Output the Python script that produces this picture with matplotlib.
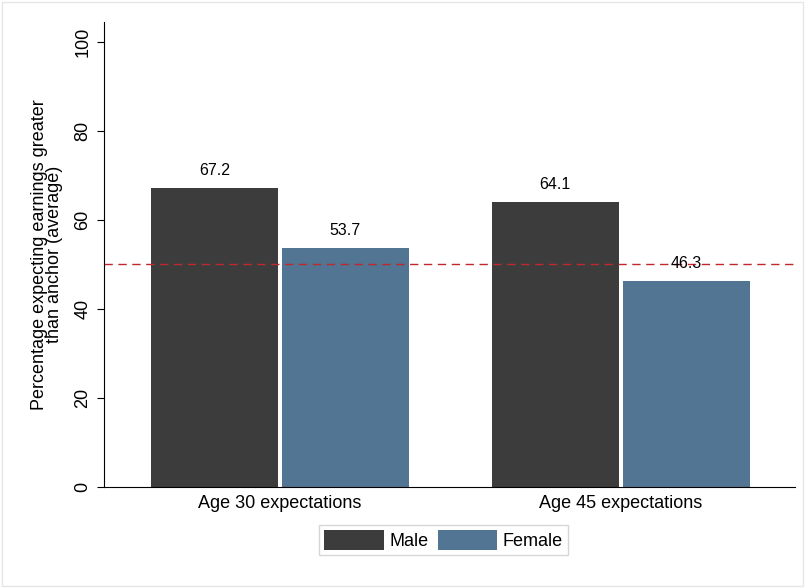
import matplotlib
matplotlib.use("Agg")
import matplotlib.pyplot as plt
from matplotlib.patches import Rectangle

categories = ["Age 30 expectations", "Age 45 expectations"]
male = [67.2, 64.1]
female = [53.7, 46.3]
anchor = 50

plt.rcParams['font.family'] = ['Liberation Sans', 'DejaVu Sans']
fig = plt.figure(figsize=(8.05, 5.88), dpi=100)
fig.patches.append(Rectangle((0.003, 0.003), 0.994, 0.994, transform=fig.transFigure,
                             fill=False, edgecolor='#e6e6e6', lw=1))
ax = fig.add_axes([0.129, 0.1718, 0.858, 0.791])
w = 0.372
gap = 0.006
xs = range(len(categories))
for i in xs:
    ax.bar(i - gap - w/2, male[i], w, color='#3c3c3c', label='Male' if i == 0 else None)
    ax.bar(i + gap + w/2, female[i], w, color='#517593', label='Female' if i == 0 else None)
    ax.text(i - gap - w/2, male[i] + 2.2, f"{male[i]:.1f}", ha='center', va='bottom', fontsize=11.5)
    ax.text(i + gap + w/2, female[i] + 2.2, f"{female[i]:.1f}", ha='center', va='bottom', fontsize=11.5)
ax.axhline(anchor, color='#c0282d', ls=(0, (6, 4)), lw=1)
ax.set_xlim(-0.516, 1.51)
ax.set_ylim(0, 104.5)
ax.set_yticks([0, 20, 40, 60, 80, 100])
ax.set_yticklabels(['0', '20', '40', '60', '80', '100'], rotation=90, va='center', fontsize=13)
ax.set_xticks(list(xs))
ax.set_xticklabels(categories, fontsize=13)
ax.tick_params(axis='x', length=0, pad=6)
ax.tick_params(axis='y', length=5, pad=4)
for s in ['top', 'right']:
    ax.spines[s].set_visible(False)
ax.set_ylabel("Percentage expecting earnings greater\nthan anchor (average)", fontsize=13,
              linespacing=0.9, labelpad=8)
fig.legend(loc='lower center', bbox_to_anchor=(0.551, 0.04), ncol=2, fontsize=13,
           frameon=True, fancybox=False, edgecolor='#cccccc', handlelength=3.3,
           handleheight=1.3, columnspacing=0.5, handletextpad=0.3, borderpad=0.3)
fig.savefig("out.png", dpi=100, facecolor='white')
